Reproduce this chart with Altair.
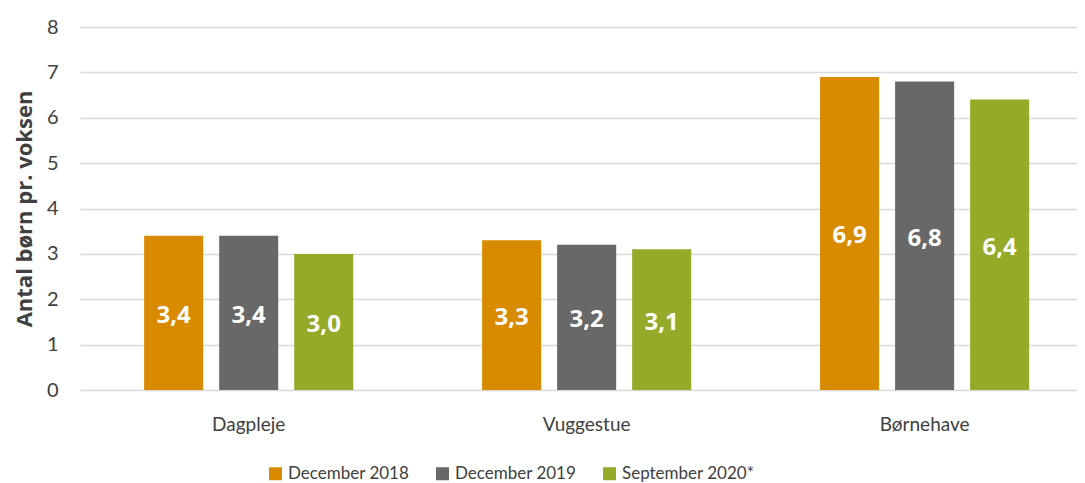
import altair as alt
import pandas as pd

categories = ["Dagpleje", "Vuggestue", "Børnehave"]
series = ["December 2018", "December 2019", "September 2020*"]
values_dec2018 = [3.4, 3.3, 6.9]
values_dec2019 = [3.4, 3.2, 6.8]
values_sep2020 = [3.0, 3.1, 6.4]
colors = ["#D98B00", "#686868", "#96AA2A"]
y_ticks = [0, 1, 2, 3, 4, 5, 6, 7, 8]

rows = []
for s, vals in zip(series, [values_dec2018, values_dec2019, values_sep2020]):
    for c, v in zip(categories, vals):
        rows.append({"kategori": c, "serie": s, "vaerdi": v,
                     "label": f"{v:.1f}".replace(".", ",")})
df = pd.DataFrame(rows)

FONT = "Lato"
BFONT = "Open Sans"
TXT = "#404040"

x = alt.X("kategori:N", sort=categories,
          scale=alt.Scale(paddingInner=0.334, paddingOuter=0.142, align=0.585),
          axis=alt.Axis(title=None, labelAngle=0, domain=False, ticks=False,
                        labelPadding=25, labelFontSize=19, labelFont=FONT,
                        labelColor=TXT))
xoff = alt.XOffset("serie:N", sort=series,
                   scale=alt.Scale(paddingInner=0.213, paddingOuter=0.1065))

base = alt.Chart(df)

bars = base.mark_bar().encode(
    x=x,
    xOffset=xoff,
    y=alt.Y("vaerdi:Q",
            scale=alt.Scale(domain=[0, 8], nice=False),
            axis=alt.Axis(title="Antal børn pr. voksen", values=y_ticks,
                          domain=False, ticks=False, grid=True,
                          gridColor="#d9d9d9", gridWidth=1.3,
                          labelPadding=22, labelFontSize=20, labelFont=FONT,
                          labelColor=TXT, titleFont=BFONT, titleFontSize=22,
                          titleFontWeight="bold", titleColor=TXT,
                          titlePadding=10)),
    color=alt.Color("serie:N", sort=series,
                    scale=alt.Scale(domain=series, range=colors),
                    legend=alt.Legend(title=None, orient="none",
                                      direction="horizontal",
                                      legendX=187, legendY=438,
                                      symbolType="square", symbolSize=169,
                                      symbolStrokeWidth=0,
                                      labelFont=FONT, labelFontSize=17,
                                      labelColor=TXT, columnPadding=24,
                                      labelOffset=4)),
)

text = base.mark_text(font=BFONT, fontSize=24, fontWeight="bold",
                      color="white", baseline="middle", dy=3).encode(
    x=x,
    xOffset=xoff,
    y=alt.Y("mid:Q"),
    text="label:N",
).transform_calculate(mid="datum.vaerdi / 2")

chart = (bars + text).properties(
    width=997, height=363,
    padding={"left": 5, "top": 9, "right": 0, "bottom": 5},
).configure_view(stroke=None).configure_axis(gridColor="#d9d9d9")

chart.save("out.html", embed_options={"renderer": "svg", "actions": False})
